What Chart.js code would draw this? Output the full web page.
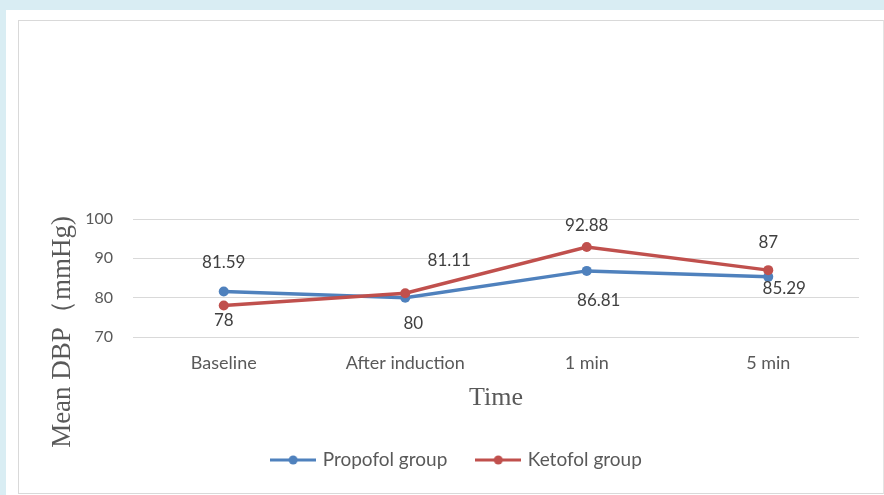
<!DOCTYPE html>
<html>
<head>
<meta charset="utf-8">
<script src="https://cdn.jsdelivr.net/npm/chart.js@4/dist/chart.umd.min.js"></script>
<style>
  html, body { margin: 0; padding: 0; }
  body { width: 884px; height: 495px; background: #d9edf3; position: relative; overflow: hidden; }
  .sheet { position: absolute; left: 6px; top: 10px; width: 878px; height: 485px; background: #ffffff; }
  .frame { position: absolute; left: 18px; top: 20px; width: 864px; height: 472px; border: 1px solid #d9d9d9; border-right-color: #e4e4e4; background: #fff; }
  canvas { display: block; }
</style>
</head>
<body>
<div class="sheet"></div>
<div class="frame"><canvas id="c" width="864" height="472"></canvas></div>
<script>
// Time points and mean diastolic blood pressure per group
const categories = ['Baseline', 'After induction', '1 min', '5 min'];
const propofol = [81.59, 80, 86.81, 85.29];
const ketofol = [78, 81.11, 92.88, 87];
const seriesNames = ['Propofol group', 'Ketofol group'];
const yTicks = [70, 80, 90, 100];

const BLUE = '#4f81bd';
const RED = '#c0504d';
const SANS = 'Lato, "Open Sans", sans-serif';
const SERIF = '"Liberation Serif", "Times New Roman", serif';

// Per-point nudges (px) for the value labels so they sit clear of the lines
const labelNudges = [
  [[0, -29], [8, 26], [12, 30], [16, 12]],
  [[0, 15], [44, -33], [0, -21], [0, -28]]
];

// Small line-with-marker swatch used as the legend symbol
function swatch(color) {
  const cv = document.createElement('canvas');
  cv.width = 46; cv.height = 12;
  const g = cv.getContext('2d');
  g.strokeStyle = color; g.lineWidth = 3;
  g.beginPath(); g.moveTo(0, 6); g.lineTo(46, 6); g.stroke();
  g.fillStyle = color;
  g.beginPath(); g.arc(23, 6, 4.5, 0, Math.PI * 2); g.fill();
  return cv;
}
const swatches = [swatch(BLUE), swatch(RED)];

const valueLabels = {
  id: 'valueLabels',
  afterDatasetsDraw(chart) {
    const ctx = chart.ctx;
    ctx.save();
    ctx.font = '17px ' + SANS;
    ctx.fillStyle = '#404040';
    ctx.textAlign = 'center';
    ctx.textBaseline = 'middle';
    chart.data.datasets.forEach((ds, di) => {
      const meta = chart.getDatasetMeta(di);
      meta.data.forEach((pt, i) => {
        const [dx, dy] = labelNudges[di][i];
        ctx.fillText(String(ds.data[i]), pt.x + dx, pt.y + dy);
      });
    });
    ctx.restore();
  }
};

const axisTitles = {
  id: 'axisTitles',
  afterDraw(chart) {
    const ctx = chart.ctx;
    const a = chart.chartArea;
    ctx.save();
    ctx.fillStyle = '#595959';
    ctx.font = '26px ' + SERIF;
    ctx.textAlign = 'center';
    ctx.textBaseline = 'middle';
    ctx.fillText('Time', (a.left + a.right) / 2, a.bottom + 61);
    ctx.font = '27px ' + SERIF;
    ctx.translate(44, a.bottom - 5);
    ctx.rotate(-Math.PI / 2);
    ctx.fillText('Mean DBP（mmHg)', 0, 0);
    ctx.restore();
  }
};

new Chart(document.getElementById('c'), {
  type: 'line',
  data: {
    labels: categories,
    datasets: [
      { label: seriesNames[0], data: propofol, borderColor: BLUE, backgroundColor: BLUE,
        borderWidth: 3.5, pointRadius: 5, pointHoverRadius: 5, pointBorderWidth: 0, order: 1 },
      { label: seriesNames[1], data: ketofol, borderColor: RED, backgroundColor: RED,
        borderWidth: 3.5, pointRadius: 5, pointHoverRadius: 5, pointBorderWidth: 0, order: 0 }
    ]
  },
  options: {
    responsive: false,
    animation: false,
    layout: { padding: { top: 198, right: 24, bottom: 13.5, left: 37 } },
    scales: {
      x: {
        offset: true,
        grid: { display: false, drawTicks: false },
        border: { display: false },
        ticks: { padding: 15, color: '#595959', font: { family: SANS, size: 18 }, maxRotation: 0 },
        afterFit(s) { s.height = 82.5; }
      },
      y: {
        min: 70, max: 100,
        afterBuildTicks(s) { s.ticks = yTicks.map(v => ({ value: v })); },
        grid: { color: '#d9d9d9', lineWidth: 1, drawTicks: false },
        border: { display: false },
        ticks: { padding: 20, color: '#595959', font: { family: SANS, size: 16 } },
        afterFit(s) { s.width = 77; }
      }
    },
    plugins: {
      tooltip: { enabled: false },
      legend: {
        position: 'bottom',
        labels: {
          usePointStyle: true,
          pointStyleWidth: 40,
          padding: 31,
          color: '#595959',
          font: { family: SANS, size: 19 },
          sort: (a, b) => a.datasetIndex - b.datasetIndex,
          generateLabels(chart) {
            const items = Chart.defaults.plugins.legend.labels.generateLabels(chart);
            items.forEach(it => { it.pointStyle = swatches[it.datasetIndex]; });
            return items;
          }
        }
      }
    }
  },
  plugins: [valueLabels, axisTitles]
});
</script>
</body>
</html>
